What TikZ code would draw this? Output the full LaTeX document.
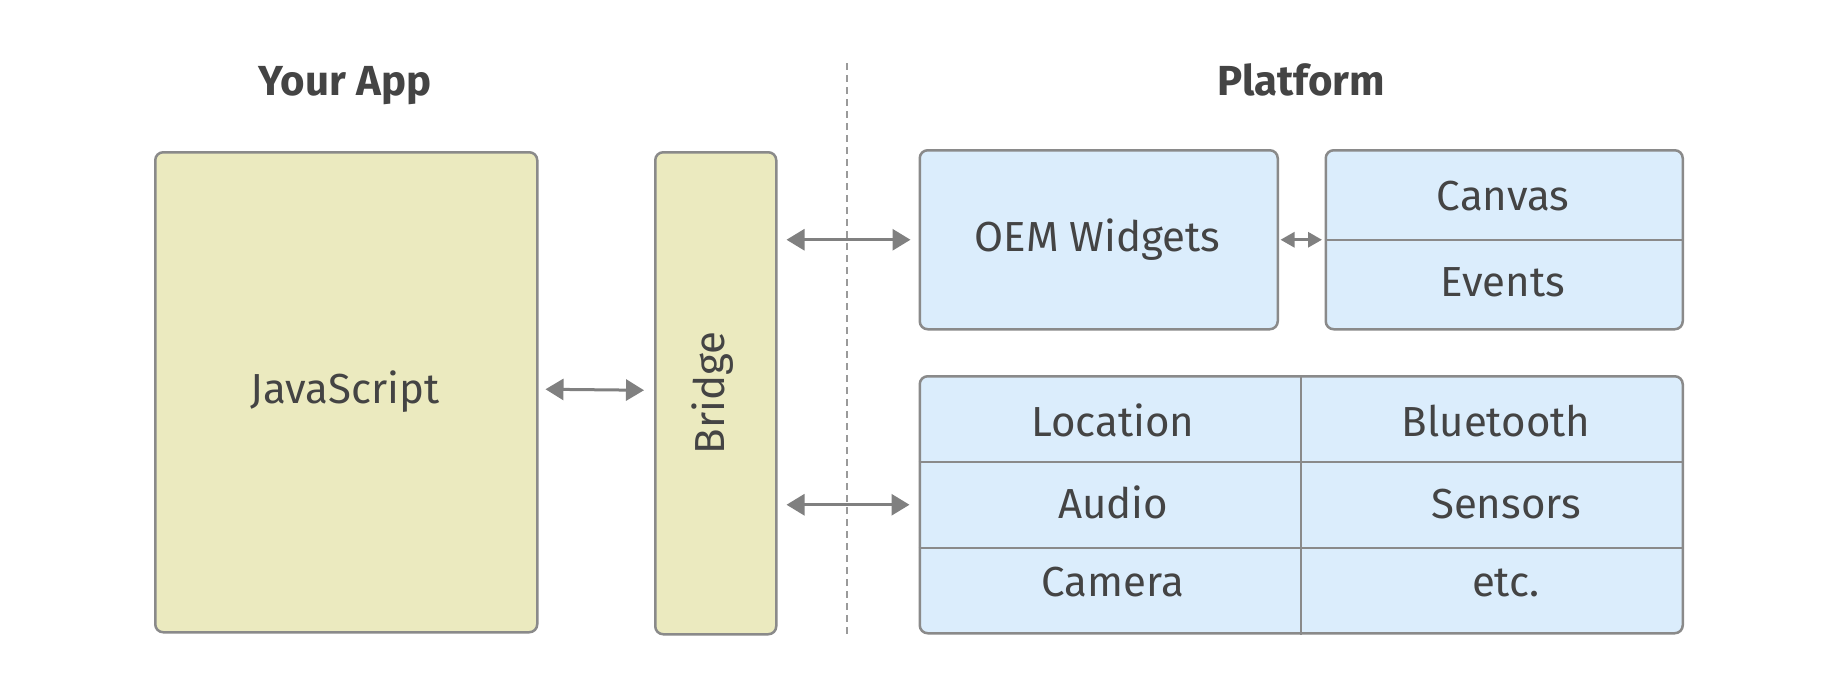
\documentclass[tikz,border=0pt]{standalone}
\usepackage{fontspec}
\setmainfont{Fira Sans}
\usetikzlibrary{arrows.meta,calc}
\definecolor{txt}{HTML}{444444}
\definecolor{edge}{HTML}{8A8A8A}
\definecolor{ylw}{HTML}{EBEABF}
\definecolor{blu}{HTML}{DBEDFC}
\definecolor{arr}{HTML}{808080}
\definecolor{dash}{HTML}{9A9A9A}
\begin{document}
\begin{tikzpicture}[x=1pt,y=-1pt,
  box/.style={draw=edge, line width=2.5pt, rounded corners=8pt, inner sep=0pt, anchor=north west},
  divider/.style={draw=edge, line width=2pt},
  lbl/.style={text=txt, font=\fontsize{42}{50}\selectfont, anchor=base, inner sep=0pt},
  ttl/.style={text=txt, font=\fontsize{42}{50}\selectfont\bfseries, anchor=base, inner sep=0pt},
  link/.style={draw=arr, line width=3pt, {Triangle[length=18pt,width=21pt]}-{Triangle[length=18pt,width=21pt]}},
  smalllink/.style={draw=arr, line width=3pt, {Triangle[length=14pt,width=15pt]}-{Triangle[length=14pt,width=15pt]}},
  sep/.style={draw=dash, line width=1.5pt, dash pattern=on 7pt off 5pt}]
\fill[white] (0,0) rectangle (1826,696);
\useasboundingbox (0,0) rectangle (1826,696);

% boxes
\node[box, fill=ylw, minimum width=382pt, minimum height=480pt] (js) at (154,151) {};
\node[box, fill=ylw, minimum width=121pt, minimum height=482pt] (bridge) at (654,151) {};
\node[box, fill=blu, minimum width=358pt, minimum height=179pt] (oem) at (918.5,149) {};
\node[box, fill=blu, minimum width=357pt, minimum height=179pt] (ce) at (1324.5,149) {};
\node[box, fill=blu, minimum width=763pt, minimum height=257pt] (grid) at (918.5,375) {};

% dividers
\draw[divider] (ce.west) -- (ce.east);
\draw[divider] (grid.north) -- (grid.south);
\draw[divider] ($(grid.north west)!1/3!(grid.south west)$) -- ($(grid.north east)!1/3!(grid.south east)$);
\draw[divider] ($(grid.north west)!2/3!(grid.south west)$) -- ($(grid.north east)!2/3!(grid.south east)$);

% separator
\coordinate (dtop) at (847,63);
\coordinate (dbot) at (847,637);
\draw[sep] (dtop) -- (dbot);

% titles
\node[ttl] (tapp) at (345,95) {Your App};
\node[ttl] (tplat) at (1301,95) {Platform};

% labels
\node[lbl] (tjs) at (345,403) {JavaScript};
\node[lbl, rotate=90] (tbridge) at (724.5,393) {Bridge};
\node[lbl] (toem) at (1097.5,251) {OEM Widgets};
\node[lbl] (tcanvas) at (1503,210) {Canvas};
\node[lbl] (tevents) at (1503,296.7) {Events};
\node[lbl] (tloc) at (1113,436.7) {Location};
\node[lbl] (tblue) at (1496,436.7) {Bluetooth};
\node[lbl] (taudio) at (1113,518) {Audio};
\node[lbl] (tsens) at (1506,518) {Sensors};
\node[lbl] (tcam) at (1113,596.7) {Camera};
\node[lbl] (tetc) at (1506,596.7) {etc.};

% connectors
\draw[link] ([xshift=7pt,yshift=3pt]js.east) -- ([xshift=-10pt,yshift=3pt]bridge.west);
\draw[link, shorten <=9pt, shorten >=8pt] (bridge.east |- oem.west) -- (oem.west);
\draw[link, shorten <=9pt, shorten >=9pt] (bridge.east |- grid.west) -- (grid.west);
\draw[smalllink, shorten <=1.5pt, shorten >=2.5pt] (oem.east) -- (ce.west);
\end{tikzpicture}
\end{document}
